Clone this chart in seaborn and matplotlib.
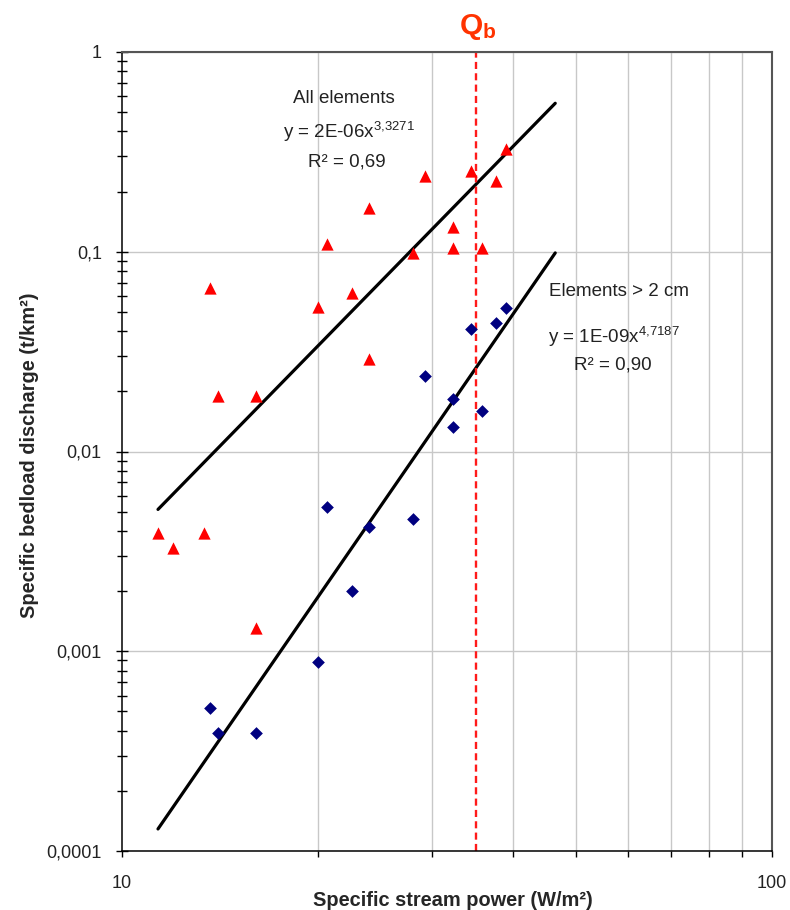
import numpy as np
import pandas as pd
import matplotlib
matplotlib.use("Agg")
import matplotlib.pyplot as plt
from matplotlib.ticker import FixedLocator, FixedFormatter, NullFormatter
import seaborn as sns

# ---------------- data ----------------
power_all = [11.36, 11.98, 13.39, 13.68, 14.05, 16.1, 16.1, 20.0, 20.7, 22.6,
             24.0, 24.0, 28.0, 29.25, 32.25, 32.25, 34.4, 35.8, 37.6, 39.0]
bedload_all = [0.0039, 0.0033, 0.0039, 0.066, 0.0189, 0.0189, 0.0013, 0.053, 0.109, 0.062,
               0.165, 0.029, 0.099, 0.239, 0.133, 0.105, 0.253, 0.105, 0.226, 0.326]

power_big = [13.68, 14.05, 16.1, 20.0, 20.7, 22.6, 24.0, 28.0, 29.25, 32.25,
             32.25, 34.4, 35.8, 37.6, 39.0]
bedload_big = [0.00052, 0.00039, 0.00039, 0.00088, 0.0053, 0.0020, 0.0042, 0.0046, 0.024, 0.0184,
               0.0132, 0.041, 0.0159, 0.044, 0.052]

# power-law trend lines  y = a * x^b
trend_a_all, trend_b_all = 1.58e-6, 3.3271
trend_a_big, trend_b_big = 1.35e-9, 4.7187
trend_x_range = [11.36, 46.4]

q_b = 35.0

y_ticks = [0.0001, 0.001, 0.01, 0.1, 1]
y_tick_labels = ["0,0001", "0,001", "0,01", "0,1", "1"]
x_ticks = [10, 100]
x_tick_labels = ["10", "100"]

# ---------------- style ----------------
sns.set_theme(style="white")
plt.rcParams['font.family'] = ['Liberation Sans', 'DejaVu Sans']
plt.rcParams['mathtext.fontset'] = 'custom'
plt.rcParams['mathtext.rm'] = 'Liberation Sans'
plt.rcParams['mathtext.it'] = 'Liberation Sans:italic'
plt.rcParams['mathtext.bf'] = 'Liberation Sans:bold'

fig = plt.figure(figsize=(7.9, 9.1), dpi=100)
ax = fig.add_axes([122 / 790, 1 - 851 / 910, 650 / 790, 799 / 910])
ax.set_xscale('log')
ax.set_yscale('log')
ax.set_xlim(10, 100)
ax.set_ylim(0.0001, 1)

# trend lines
tx = np.geomspace(trend_x_range[0], trend_x_range[1], 20)
df_trend = pd.DataFrame({
    'x': np.concatenate([tx, tx]),
    'y': np.concatenate([trend_a_all * tx ** trend_b_all, trend_a_big * tx ** trend_b_big]),
    'series': ['all'] * len(tx) + ['big'] * len(tx),
})
sns.lineplot(data=df_trend, x='x', y='y', units='series', estimator=None, sort=False,
             color='black', lw=2.3, ax=ax, zorder=2)

# scatter points
sns.scatterplot(x=power_all, y=bedload_all, marker='^', s=78, color='#FF0000',
                linewidth=0, ax=ax, zorder=3)
sns.scatterplot(x=power_big, y=bedload_big, marker='D', s=42, color='#000080',
                linewidth=0, ax=ax, zorder=3)

# Qb line
ax.axvline(q_b, color='#FF1A1A', lw=1.7, ls=(0, (3.0, 1.8)), zorder=2.5)
ax.text(0.547, 1.0226, r'$\mathbf{Q_b}$', transform=ax.transAxes, ha='center',
        va='baseline', color='#FF3300', fontsize=21.5)

# ticks / grid
ax.xaxis.set_major_locator(FixedLocator(x_ticks))
ax.xaxis.set_major_formatter(FixedFormatter(x_tick_labels))
ax.xaxis.set_minor_locator(FixedLocator([20, 30, 40, 50, 60, 70, 80, 90]))
ax.xaxis.set_minor_formatter(NullFormatter())
ax.yaxis.set_major_locator(FixedLocator(y_ticks))
ax.yaxis.set_major_formatter(FixedFormatter(y_tick_labels))
ax.yaxis.set_minor_locator(FixedLocator([m * d for d in [0.0001, 0.001, 0.01, 0.1] for m in range(2, 10)]))
ax.yaxis.set_minor_formatter(NullFormatter())

ax.grid(False)
ax.grid(True, which='minor', axis='x', color='#C8C8C8', lw=1.0)
ax.grid(True, which='major', axis='y', color='#C8C8C8', lw=1.0)
ax.set_axisbelow(True)

ax.tick_params(axis='x', which='both', direction='out', length=4, width=1, color='black',
               labelsize=13, pad=13, labelcolor='#222222')
ax.tick_params(axis='y', which='major', direction='inout', length=9, width=1, color='black',
               labelsize=13, pad=10, labelcolor='#222222')
ax.tick_params(axis='y', which='minor', direction='inout', length=7, width=1, color='black')
ax.tick_params(left=True, bottom=True, which='both')

for s in ['left', 'bottom']:
    ax.spines[s].set_color('black')
    ax.spines[s].set_linewidth(1.1)
for s in ['top', 'right']:
    ax.spines[s].set_color('#555555')
    ax.spines[s].set_linewidth(1.5)

# axis labels
ax.set_xlabel('Specific stream power (W/m²)', fontsize=14.4, fontweight='bold')
ax.xaxis.set_label_coords(0.509, -0.0614)
ax.xaxis.label.set_va('center')
ax.set_ylabel('Specific bedload discharge (t/km²)', fontsize=14.4, fontweight='bold')
ax.yaxis.set_label_coords(-0.143, 0.495)
ax.yaxis.label.set_va('center')

# annotations
tc = '#222222'
ax.text(0.263, 0.942, 'All elements', transform=ax.transAxes, ha='left', va='center', fontsize=13.5, color=tc)
ax.text(0.2477, 0.900, r'y = 2E-06x$^{3{,}3271}$', transform=ax.transAxes, ha='left', va='center', fontsize=13.5, color=tc)
ax.text(0.286, 0.862, 'R² = 0,69', transform=ax.transAxes, ha='left', va='center', fontsize=13.5, color=tc)
ax.text(0.657, 0.7005, 'Elements > 2 cm', transform=ax.transAxes, ha='left', va='center', fontsize=13.5, color=tc)
ax.text(0.655, 0.643, r'y = 1E-09x$^{4{,}7187}$', transform=ax.transAxes, ha='left', va='center', fontsize=13.5, color=tc)
ax.text(0.695, 0.608, 'R² = 0,90', transform=ax.transAxes, ha='left', va='center', fontsize=13.5, color=tc)

fig.savefig('out.png', dpi=100)
